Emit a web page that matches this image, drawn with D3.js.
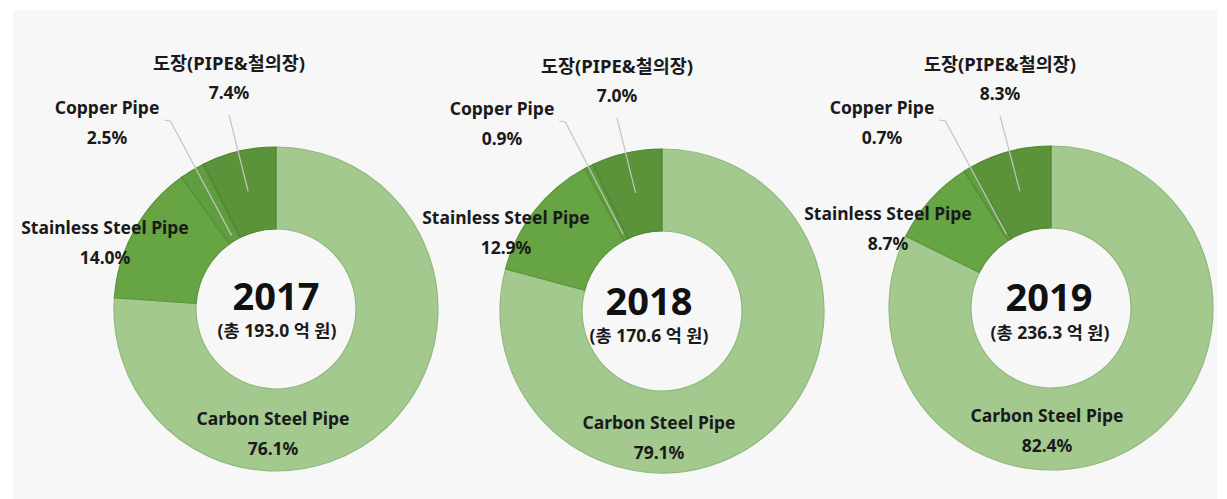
<!DOCTYPE html>
<html>
<head>
<meta charset="utf-8">
<script src="https://cdn.jsdelivr.net/npm/d3@7"></script>
<style>
  html, body { margin: 0; padding: 0; background: #ffffff; }
  svg { display: block; }
  text { font-family: "Noto Sans", "Noto Sans CJK KR", sans-serif; fill: #1a1a1a; }
</style>
</head>
<body>
<svg id="chart" width="1227" height="499"></svg>
<script>
// Pipe sales mix by year (share of total, %)
const categories = ["Carbon Steel Pipe", "Stainless Steel Pipe", "Copper Pipe", "도장(PIPE&철의장)"];
const years = ["2017", "2018", "2019"];
const totals = ["193.0", "170.6", "236.3"];
const share2017 = [76.1, 14.0, 2.5, 7.4];
const share2018 = [79.1, 12.9, 0.9, 7.0];
const share2019 = [82.4, 8.7, 0.7, 8.3];
const shares = [share2017, share2018, share2019];

const colors = ["#a3c98f", "#66a444", "#5f9d3f", "#5a9339"];
const strokes = ["#8fb97a", "#5a953b", "#558f38", "#4f8431"];

// Donut placement and label offsets (relative to each donut centre)
const layout = [
  { cx: 276, cy: 309, year: [0, -14], total: [1, 21],
    labels: [[-3, 109], [-171, -82], [-169, -202], [-47, -247]] },
  { cx: 662, cy: 311, year: [-13, -11.5], total: [-13, 23.5],
    labels: [[-3, 111], [-156, -94], [-160, -203], [-45, -246]] },
  { cx: 1051, cy: 308, year: [-2, -12.5], total: [-1, 23.5],
    labels: [[-4, 107], [-163, -95], [-169, -201], [-51, -245]] }
];
const labelSize = [17.5, 17.5, 17.5, 18.5];

const R = 162, r = 80, lineGap = 30;

const svg = d3.select("#chart");
svg.append("rect").attr("x", 13).attr("y", 10).attr("width", 1204).attr("height", 489).attr("fill", "#f7f7f7");

const pie = d3.pie().sort(null).value(d => d);
const arc = d3.arc().innerRadius(r).outerRadius(R);

shares.forEach((vals, i) => {
  const L = layout[i];
  const g = svg.append("g").attr("transform", `translate(${L.cx},${L.cy})`);
  const arcs = pie(vals);

  g.selectAll("path.slice").data(arcs).join("path")
    .attr("class", "slice")
    .attr("d", arc)
    .attr("fill", (d, k) => colors[k])
    .attr("stroke", (d, k) => strokes[k])
    .attr("stroke-width", 1.2);

  // slice labels: name + percentage
  const lab = g.selectAll("g.lab").data(arcs).join("g").attr("class", "lab")
    .attr("transform", (d, k) => `translate(${L.labels[k][0]},${L.labels[k][1]})`);
  lab.append("text").attr("class", "name")
    .attr("text-anchor", "middle").attr("dominant-baseline", "central")
    .attr("font-size", (d, k) => labelSize[k]).attr("font-weight", 700)
    .text((d, k) => categories[k]);
  lab.append("text")
    .attr("text-anchor", "middle").attr("dominant-baseline", "central")
    .attr("y", lineGap)
    .attr("font-size", 17.5).attr("font-weight", 700)
    .text(d => d.data.toFixed(1) + "%");

  // leader lines for the two small slices
  const mid = d => (d.startAngle + d.endAngle) / 2;
  const onRing = (d, rad) => [Math.sin(mid(d)) * rad, -Math.cos(mid(d)) * rad];

  // Copper Pipe
  {
    const d = arcs[2];
    const nameEl = lab.filter((e, k) => k === 2).select("text.name").node();
    const w = nameEl.getComputedTextLength();
    const sx = L.labels[2][0] + w / 2 + 5, sy = L.labels[2][1] + 13;
    const [ex, ey] = onRing(d, 86);
    g.append("path")
      .attr("d", d3.line()([[sx, sy], [sx + 6, sy + 1], [ex, ey]]))
      .attr("fill", "none").attr("stroke", "#c4c4c4").attr("stroke-width", 1.2);
  }
  // 도장
  {
    const d = arcs[3];
    const sx = L.labels[3][0], sy = L.labels[3][1] + lineGap + 23;
    const [ex, ey] = onRing(d, 121);
    g.append("path")
      .attr("d", d3.line()([[sx, sy], [ex, ey]]))
      .attr("fill", "none").attr("stroke", "#c4c4c4").attr("stroke-width", 1.2);
  }

  // centre text
  g.append("text")
    .attr("x", L.year[0]).attr("y", L.year[1])
    .attr("text-anchor", "middle").attr("dominant-baseline", "central")
    .attr("font-size", 38).attr("font-weight", 700)
    .attr("font-family", "'Liberation Sans', Arial, sans-serif")
    .style("fill", "#111")
    .text(years[i]);
  g.append("text")
    .attr("x", L.total[0]).attr("y", L.total[1])
    .attr("text-anchor", "middle").attr("dominant-baseline", "central")
    .attr("font-size", 17.5).attr("font-weight", 700)
    .attr("font-family", "'Noto Sans CJK KR', sans-serif")
    .text(`(총 ${totals[i]} 억 원)`);
});
</script>
</body>
</html>
